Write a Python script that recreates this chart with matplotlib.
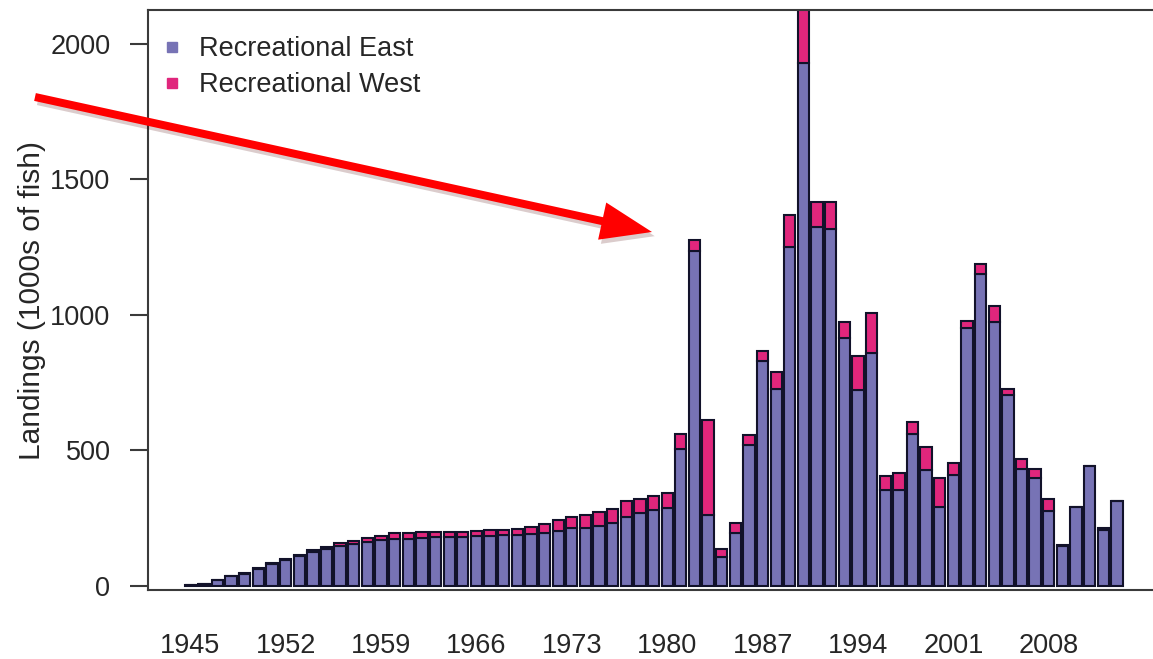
# recreational landings bar chart (east vs west), stacked bars per year
# values read off the original figure by eye, so +/- a few thousand fish

import numpy as np
import matplotlib.pyplot as plt
from matplotlib.patches import FancyArrow
from matplotlib.lines import Line2D
import matplotlib.patheffects as pe

plt.rcParams['font.family'] = ['Liberation Sans', 'DejaVu Sans']

# -------------------------------------------------------------------
# data (1000s of fish)
# -------------------------------------------------------------------
years = list(range(1945, 2014))

rec_east = [5, 6, 21, 36, 46, 63, 81, 96, 109, 127,
            138, 148, 156, 163, 168, 175, 175, 178, 180, 182,
            182, 184, 186, 187, 188, 191, 194, 204, 213, 215,
            221, 231, 256, 270, 280, 289, 504, 1235, 263, 107,
            195, 521, 830, 728, 1249, 1930, 1324, 1317, 916, 724,
            859, 355, 355, 561, 426, 292, 408, 951, 1150, 972,
            703, 433, 398, 277, 147, 292, 441, 205, 313]

rec_west = [0, 0, 1, 1, 1, 2, 3, 4, 5, 6,
            7, 9, 11, 13, 16, 19, 19, 20, 18, 17,
            18, 20, 19, 21, 22, 25, 33, 39, 43, 47,
            53, 53, 57, 52, 52, 53, 57, 42, 348, 29,
            37, 36, 36, 60, 120, 230, 91, 98, 56, 123,
            149, 50, 61, 43, 85, 106, 44, 28, 38, 60,
            25, 36, 35, 43, 3, 0, 0, 9, 0]

xtick_years = [1945, 1952, 1959, 1966, 1973, 1980, 1987, 1994, 2001, 2008]
series_names = ['Recreational East', 'Recreational West']

# -------------------------------------------------------------------
# colours / figure
# -------------------------------------------------------------------
col_east = '#7773b5'
col_west = '#e0267c'
col_edge = '#12122a'
col_text = '#262626'

W, H = 1153, 659
fig = plt.figure(figsize=(W / 100, H / 100), dpi=100)

# axes box in pixels: left 148, top 10, bottom 590, runs off the right edge
ax = fig.add_axes([148 / W, (H - 590) / H, 1 - 148 / W, 580 / H])

x = np.array(years)
east = np.array(rec_east)
west = np.array(rec_west)

ax.bar(x, east, width=0.83, color=col_east, edgecolor=col_edge, linewidth=1.5)
ax.bar(x, west, width=0.83, bottom=east, color=col_west, edgecolor=col_edge,
       linewidth=1.5)

ax.set_xlim(1941.9, 2015.65)
ax.set_ylim(-14.7, 2124)

for s in ['left', 'top', 'bottom']:
    ax.spines[s].set_color('#3a3a3a')
    ax.spines[s].set_linewidth(1.5)
ax.spines['right'].set_visible(False)

ax.set_yticks([0, 500, 1000, 1500, 2000])
ax.tick_params(axis='y', length=13, width=1.5, color='#3a3a3a', pad=14,
               labelsize=19.5, labelcolor=col_text)
ax.set_xticks(xtick_years)
ax.set_xticklabels([str(y) for y in xtick_years])
ax.tick_params(axis='x', length=0, pad=31, labelsize=19.5, labelcolor=col_text)

ax.set_ylabel('Landings (1000s of fish)', fontsize=21.5, color=col_text)
ax.yaxis.set_label_coords(-0.1015, 0.5)

# legend without frame, small square keys
handles = [Line2D([], [], linestyle='none', marker='s', markersize=7,
                  markerfacecolor=c, markeredgecolor=c)
           for c in [col_east, col_west]]
leg = ax.legend(handles, series_names, loc='upper left', frameon=False,
                fontsize=19.5, handlelength=1.0, handletextpad=0.5,
                labelspacing=0.37, borderpad=0, borderaxespad=0,
                bbox_to_anchor=(158 / W, 1 - 36 / H),
                bbox_transform=fig.transFigure)
for t in leg.get_texts():
    t.set_color(col_text)

# -------------------------------------------------------------------
# the big red arrow pointing at the 1982 spike (overlay in pixel coords)
# -------------------------------------------------------------------
ov = fig.add_axes([0, 0, 1, 1], facecolor='none')
ov.set_xlim(0, W)
ov.set_ylim(H, 0)
ov.axis('off')
arr = FancyArrow(35, 97, 617, 135, width=8, head_width=38, head_length=51,
                 length_includes_head=True, color='#ff0000', linewidth=0)
arr.set_path_effects([pe.SimplePatchShadow(offset=(2, -3), alpha=0.2),
                      pe.Normal()])
ov.add_patch(arr)

plt.savefig('out.png', dpi=100)
